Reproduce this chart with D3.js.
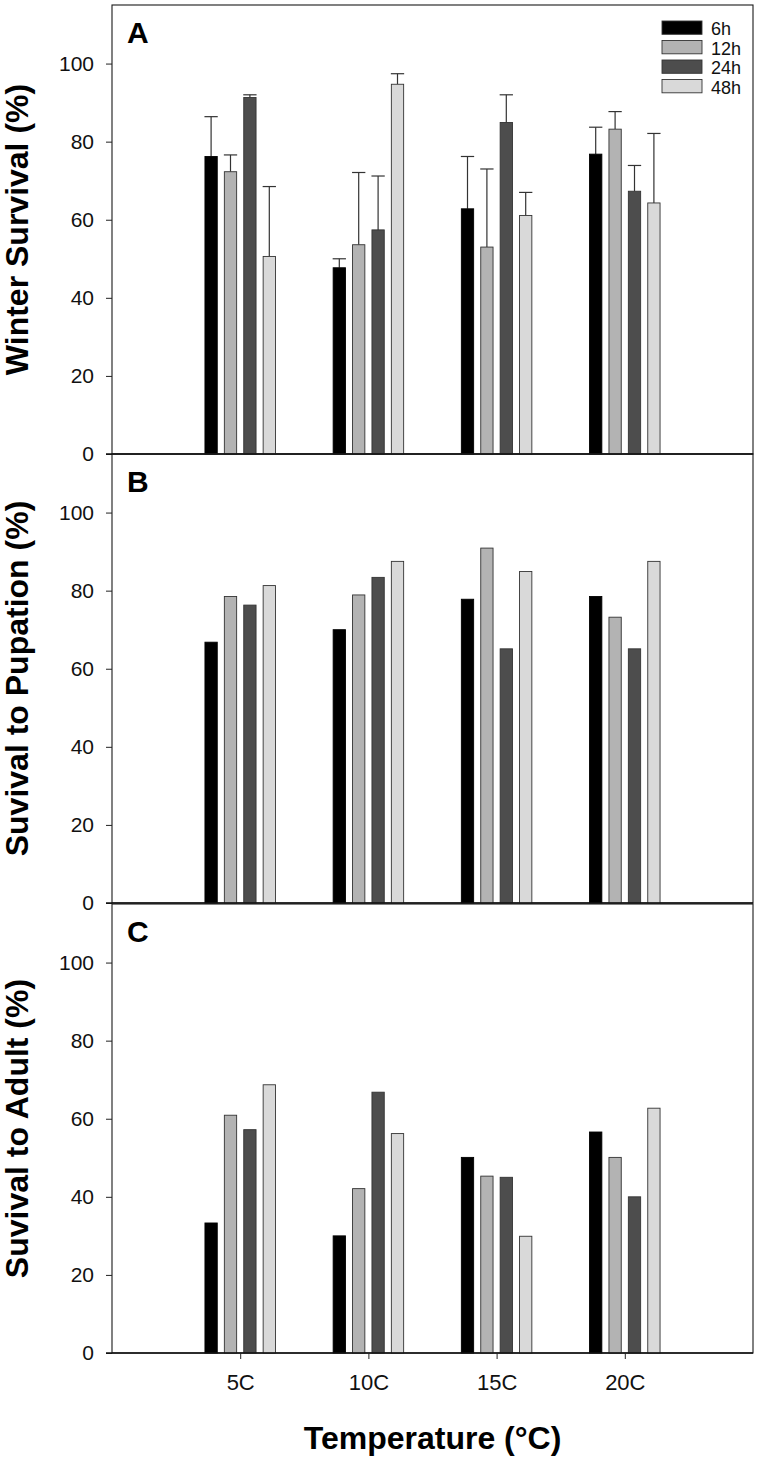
<!DOCTYPE html>
<html>
<head>
<meta charset="utf-8">
<script src="https://cdn.jsdelivr.net/npm/d3@7/dist/d3.min.js"></script>
<style>
  body { margin: 0; background: #fff; }
  text { font-family: "Liberation Sans", Arial, sans-serif; }
</style>
</head>
<body>
<div id="chart"></div>
<script>
// data
const categories = ["5C", "10C", "15C", "20C"];
const series = ["6h", "12h", "24h", "48h"];
const colors = ["#000000", "#b3b3b3", "#4d4d4d", "#d9d9d9"];

// A - winter survival (mean, +SE)
const winter6h  = [76.2, 47.7, 62.8, 76.8];
const winter12h = [72.3, 53.6, 53.0, 83.2];
const winter24h = [91.3, 57.4, 84.9, 67.3];
const winter48h = [50.6, 94.7, 61.1, 64.3];
const winterSe6h  = [10.2, 2.3, 13.4, 6.9];
const winterSe12h = [4.3, 18.5, 20.0, 4.5];
const winterSe24h = [0.7, 13.8, 7.1, 6.6];
const winterSe48h = [17.9, 2.7, 5.9, 17.8];

// B - survival to pupation
const pupa6h  = [66.8, 70.0, 77.8, 78.5];
const pupa12h = [78.5, 78.9, 90.9, 73.2];
const pupa24h = [76.3, 83.4, 65.1, 65.1];
const pupa48h = [81.3, 87.5, 84.9, 87.5];

// C - survival to adult
const adult6h  = [33.3, 30.0, 50.1, 56.6];
const adult12h = [60.9, 42.1, 45.3, 50.1];
const adult24h = [57.2, 66.8, 45.0, 40.0];
const adult48h = [68.7, 56.2, 29.9, 62.7];

const yTicks = [0, 20, 40, 60, 80, 100];

const width = 760;
const height = 1457;
const left = 112;
const right = 753;
const panelH = 449;
const panelTops = [5, 454, 904];

var svg = d3.select("#chart").append("svg")
    .attr("width", width)
    .attr("height", height);

// x: categories sit at 1..4 on a 0..5 line
var x = d3.scaleLinear().domain([0, 5]).range([left, right]);
var inner = d3.scaleBand().domain(series).range([-35.25, 35.25]).paddingInner(0.366);

function drawPanel(top, values, errs, letter, yTitle) {
    var y = d3.scaleLinear().domain([0, 115]).range([top + panelH, top]);
    var g = svg.append("g");

    // frame
    g.append("rect")
        .attr("x", left).attr("y", top)
        .attr("width", right - left).attr("height", panelH)
        .attr("fill", "none").attr("stroke", "#1a1a1a").attr("stroke-width", 1.1);

    var rows = [];
    for (var s = 0; s < series.length; s++) {
        for (var c = 0; c < categories.length; c++) {
            rows.push({ s: s, c: c, v: values[s][c], e: errs ? errs[s][c] : null });
        }
    }

    var bx = function(d) { return x(d.c + 1) + inner(series[d.s]); };

    // error bars (upper only)
    if (errs) {
        var eb = g.selectAll(".err").data(rows).enter().append("g")
            .attr("stroke", "#333").attr("stroke-width", 1.2);
        eb.append("line")
            .attr("x1", function(d) { return bx(d) + inner.bandwidth() / 2; })
            .attr("x2", function(d) { return bx(d) + inner.bandwidth() / 2; })
            .attr("y1", function(d) { return y(d.v); })
            .attr("y2", function(d) { return y(d.v + d.e); });
        eb.append("line")
            .attr("x1", function(d) { return bx(d) - 0.5; })
            .attr("x2", function(d) { return bx(d) + inner.bandwidth() + 0.5; })
            .attr("y1", function(d) { return y(d.v + d.e); })
            .attr("y2", function(d) { return y(d.v + d.e); });
    }

    g.selectAll(".bar").data(rows).enter().append("rect")
        .attr("x", bx)
        .attr("y", function(d) { return y(d.v); })
        .attr("width", inner.bandwidth())
        .attr("height", function(d) { return y(0) - y(d.v); })
        .attr("fill", function(d) { return colors[d.s]; })
        .attr("stroke", function(d) { return d.s == 0 ? "#000" : "#333"; })
        .attr("stroke-width", 0.9);

    // y axis
    var ax = g.append("g")
        .attr("transform", "translate(" + left + ",0)")
        .call(d3.axisLeft(y).tickValues(yTicks).tickSize(6).tickSizeOuter(0).tickPadding(12));
    ax.select(".domain").remove();
    ax.selectAll("text").style("font-size", "21px").attr("fill", "#111");
    ax.selectAll("line").attr("stroke", "#222");

    // baseline
    g.append("line")
        .attr("x1", left - 6).attr("x2", right)
        .attr("y1", y(0)).attr("y2", y(0))
        .attr("stroke", "#111").attr("stroke-width", 1.6);

    g.append("text")
        .attr("x", 127).attr("y", top + 38)
        .style("font-size", "30px").style("font-weight", "bold")
        .text(letter);

    g.append("text")
        .attr("transform", "translate(28," + (top + panelH / 2) + ") rotate(-90)")
        .attr("text-anchor", "middle")
        .style("font-size", "32px").style("font-weight", "bold")
        .text(yTitle);
}

drawPanel(panelTops[0],
    [winter6h, winter12h, winter24h, winter48h],
    [winterSe6h, winterSe12h, winterSe24h, winterSe48h],
    "A", "Winter Survival (%)");
drawPanel(panelTops[1], [pupa6h, pupa12h, pupa24h, pupa48h], null, "B", "Suvival to Pupation (%)");
drawPanel(panelTops[2], [adult6h, adult12h, adult24h, adult48h], null, "C", "Suvival to Adult (%)");

// x axis on the bottom panel
var bottom = panelTops[2] + panelH;
var xa = svg.append("g")
    .attr("transform", "translate(0," + bottom + ")")
    .call(d3.axisBottom(x).tickValues([1, 2, 3, 4])
        .tickFormat(function(d) { return categories[d - 1]; })
        .tickSize(6).tickSizeOuter(0).tickPadding(15));
xa.select(".domain").remove();
xa.selectAll("text").style("font-size", "22px").attr("fill", "#111");
xa.selectAll("line").attr("stroke", "#222");

svg.append("text")
    .attr("x", (left + right) / 2).attr("y", 1449)
    .attr("text-anchor", "middle")
    .style("font-size", "32px").style("font-weight", "bold")
    .text("Temperature (\u00b0C)");

// legend
var lg = svg.append("g").attr("transform", "translate(662,21)");
series.forEach(function(name, i) {
    lg.append("rect")
        .attr("x", 0).attr("y", i * 19.5)
        .attr("width", 40).attr("height", 13.3)
        .attr("fill", colors[i]).attr("stroke", "#333").attr("stroke-width", 0.9);
    lg.append("text")
        .attr("x", 49).attr("y", i * 19.5 + 14)
        .style("font-size", "18px").attr("fill", "#111")
        .text(name);
});
</script>
</body>
</html>
